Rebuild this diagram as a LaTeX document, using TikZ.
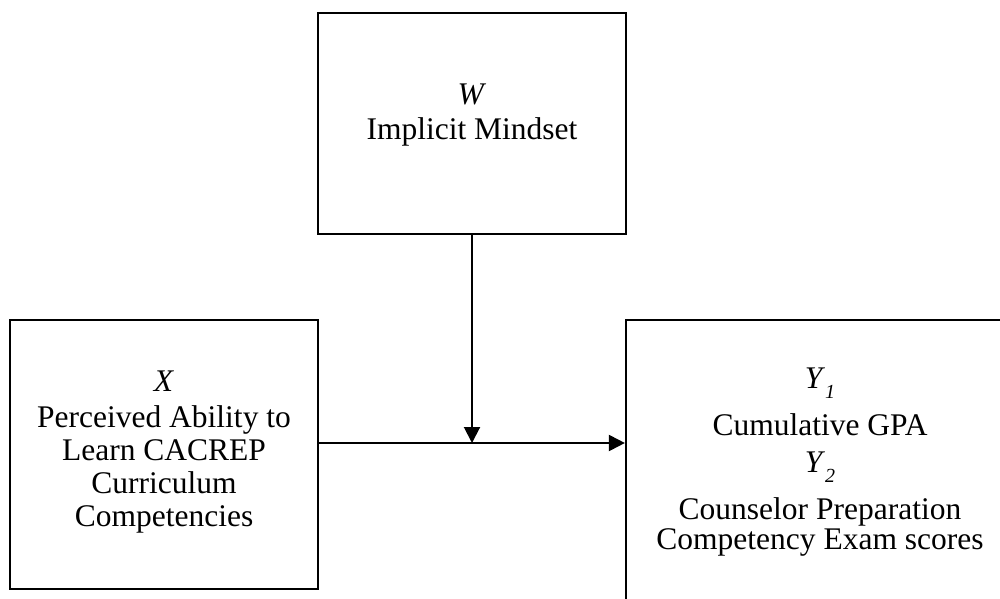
\documentclass[tikz,border=0pt]{standalone}
\usepackage{fontspec}
\setmainfont{Liberation Serif}
\usetikzlibrary{arrows.meta}
\tikzset{
  boxnode/.style={draw=black, line width=2.2pt, rectangle, inner sep=0pt, fill=none},
  txtnode/.style={align=center, inner sep=0pt, font=\fontsize{31.5}{33}\selectfont},
  conn/.style={line width=2pt, -{Triangle[length=16pt,width=16pt]}},
  plainline/.style={line width=2pt}
}
\newcommand{\subsc}[1]{\raisebox{-10pt}{\fontsize{20}{20}\selectfont\textit{#1}}}
\begin{document}
\begin{tikzpicture}[x=1pt,y=1pt]
\useasboundingbox (0,0) rectangle (1000,598);
\clip (0,0) rectangle (1000,598);
\fill[white] (0,0) rectangle (1000,598);
% boxes
\node[boxnode, minimum width=308pt, minimum height=221pt] (W) at (472,474.5) {};
\node[boxnode, minimum width=308pt, minimum height=269pt] (X) at (164,143.5) {};
\node[boxnode, minimum width=388pt, minimum height=284pt] (Y) at (820,136) {};
% texts
\node[txtnode] (Wt) at (472,482.5) {\textit{W}\\[2pt]Implicit Mindset};
\node[txtnode] (Xt) at (164,145.5) {\textit{X}\\[3pt]Perceived Ability to\\Learn CACREP\\Curriculum\\Competencies};
\node[txtnode, font=\fontsize{31.5}{30}\selectfont] (Yt) at (820,136) {\textit{Y}\subsc{1}\\[15pt]Cumulative GPA\\[7pt]\textit{Y}\subsc{2}\\[14pt]Counselor Preparation\\Competency Exam scores};
% connectors
\coordinate (mid) at (472,155);
\draw[conn] (W.south) -- (mid);
\draw[conn] (X.east |- mid) -- (Y.west |- mid);
\end{tikzpicture}
\end{document}
